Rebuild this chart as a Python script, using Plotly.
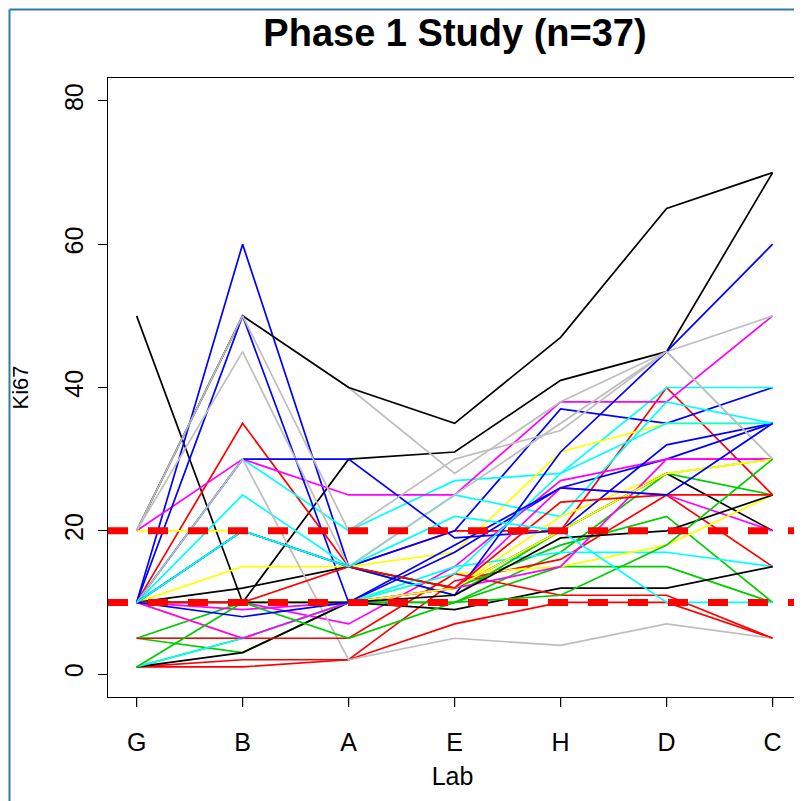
import plotly.graph_objects as go

labs = ["G", "B", "A", "E", "H", "D", "C"]
yticks = [0, 20, 40, 60, 80]

# Ki67 per patient across labs (approximate)
black_1 = [50, 10, 30, 31, 41, 45, 70]
black_2 = [20, 50, 40, 35, 47, 65, 70]
black_3 = [10, 12, 15, 12, 20, 28, 20]
black_4 = [1, 3, 10, 9, 12, 12, 15]
black_5 = [10, 10, 10, 11, 19, 20, 25]
red_1 = [10, 35, 15, 20, 20, 40, 25]
red_2 = [1, 1, 2, 7, 10, 10, 5]
red_3 = [1, 2, 2, 13, 16, 25, 15]
red_4 = [5, 5, 5, 14, 11, 11, 5]
red_5 = [10, 10, 15, 12, 24, 25, 25]
green_1 = [5, 10, 10, 10, 17, 28, 30]
green_2 = [1, 5, 10, 12, 18, 22, 10]
green_3 = [5, 3, 10, 10, 15, 15, 10]
green_4 = [10, 20, 15, 11, 20, 28, 25]
green_5 = [1, 10, 5, 10, 11, 18, 30]
blue_1 = [10, 60, 15, 20, 37, 35, 40]
blue_2 = [10, 50, 10, 17, 26, 30, 35]
blue_3 = [10, 30, 30, 19, 20, 32, 35]
blue_4 = [10, 20, 15, 11, 31, 45, 60]
blue_5 = [10, 8, 10, 18, 26, 25, 35]
cyan_1 = [10, 30, 20, 27, 28, 40, 40]
cyan_2 = [10, 25, 15, 25, 22, 38, 35]
cyan_3 = [5, 5, 10, 15, 17, 17, 15]
cyan_4 = [1, 5, 10, 14, 28, 35, 35]
cyan_5 = [10, 20, 15, 22, 20, 10, 10]
magenta_1 = [20, 30, 25, 25, 38, 38, 50]
magenta_2 = [10, 10, 7, 15, 27, 30, 30]
magenta_3 = [10, 9, 10, 12, 26, 25, 20]
magenta_4 = [10, 5, 10, 12, 15, 30, 30]
yellow_1 = [20, 20, 15, 17, 31, 35, 35]
yellow_2 = [10, 15, 15, 12, 22, 28, 30]
yellow_3 = [10, 5, 10, 14, 15, 18, 25]
yellow_4 = [10, 10, 10, 12, 20, 28, 30]
gray_1 = [20, 50, 40, 28, 38, 45, 50]
gray_2 = [20, 45, 15, 25, 35, 45, 30]
gray_3 = [10, 30, 2, 5, 4, 7, 5]
gray_4 = [20, 50, 20, 30, 34, 45, 30]

series = [
    (black_1, "black"), (black_2, "black"), (black_3, "black"), (black_4, "black"), (black_5, "black"),
    (red_1, "red"), (red_2, "red"), (red_3, "red"), (red_4, "red"), (red_5, "red"),
    (green_1, "#00CD00"), (green_2, "#00CD00"), (green_3, "#00CD00"), (green_4, "#00CD00"), (green_5, "#00CD00"),
    (blue_1, "blue"), (blue_2, "blue"), (blue_3, "blue"), (blue_4, "blue"), (blue_5, "blue"),
    (cyan_1, "cyan"), (cyan_2, "cyan"), (cyan_3, "cyan"), (cyan_4, "cyan"), (cyan_5, "cyan"),
    (magenta_1, "magenta"), (magenta_2, "magenta"), (magenta_3, "magenta"), (magenta_4, "magenta"),
    (yellow_1, "yellow"), (yellow_2, "yellow"), (yellow_3, "yellow"), (yellow_4, "yellow"),
    (gray_1, "#BEBEBE"), (gray_2, "#BEBEBE"), (gray_3, "#BEBEBE"), (gray_4, "#BEBEBE"),
]
# interleave draw order like R's colour cycle
groups = {}
for vals, col in series:
    groups.setdefault(col, []).append(vals)
cols = ["black", "red", "#00CD00", "blue", "cyan", "magenta", "yellow", "#BEBEBE"]
order = []
maxn = max(len(v) for v in groups.values())
for i in range(maxn):
    for c in cols:
        if i < len(groups[c]):
            order.append((groups[c][i], c))

thresholds = [10, 20]

fig = go.Figure()
for vals, col in order:
    fig.add_trace(go.Scatter(x=labs, y=vals, mode="lines",
                             line=dict(color=col, width=1.7), showlegend=False,
                             hoverinfo="skip"))

for t in thresholds:
    fig.add_shape(type="line", xref="paper", x0=0, x1=1, yref="y", y0=t, y1=t,
                  line=dict(color="red", width=7, dash="20px,20px"))

# page body has an 8px offset; figure sized so it ends at the window edge
OFF = 8
W, H = 802 - OFF, 801 - OFF
ml, mr, mt, mb = 108 - OFF, 5, 78 - OFF, 104
pw, ph = W - ml - mr, H - mt - mb
def px(xs):
    return (xs - OFF - ml) / pw
def py(ys):
    return (H - mb - (ys - OFF)) / ph

xr = [-0.27, 6.23]
yr = [-3.2, 83.2]

# x-axis tick marks (outside, R style): category index mapped through the axis range
for i, lab in enumerate(labs):
    xp = (i - xr[0]) / (xr[1] - xr[0])
    fig.add_shape(type="line", xref="paper", yref="paper", x0=xp, x1=xp, y0=0, y1=-10 / ph,
                  line=dict(color="black", width=1.2))

# outer frame (left and top edges visible)
frame_col = "#2C7DA0"
fig.add_shape(type="line", xref="paper", yref="paper", x0=px(9.5), x1=px(9.5), y0=py(802), y1=py(9.5),
              line=dict(color=frame_col, width=2))
fig.add_shape(type="line", xref="paper", yref="paper", x0=px(9.5), x1=px(803), y0=py(9.5), y1=py(9.5),
              line=dict(color=frame_col, width=2))

font_family = "Liberation Sans, Arial, sans-serif"
fig.update_layout(
    width=W, height=H,
    margin=dict(l=ml, r=mr, t=mt, b=mb),
    paper_bgcolor="white", plot_bgcolor="white",
    font=dict(family=font_family, color="black"),
    title=dict(text="<b>Phase 1 Study (n=37)</b>", xref="container", x=(455 - OFF) / W, xanchor="center",
               yref="container", y=1 - (33 - OFF) / H, yanchor="middle", font=dict(size=38, family=font_family)),
    xaxis=dict(type="category", categoryarray=labs, range=xr, showgrid=False, zeroline=False, automargin=False,
               showline=True, mirror=True, linecolor="black", linewidth=1.2,
               ticks="", ticklabelstandoff=23,
               tickfont=dict(size=25), title=dict(text="Lab", font=dict(size=25), standoff=12)),
    yaxis=dict(range=yr, tickvals=yticks, showgrid=False, zeroline=False,
               automargin=False,
               showline=True, mirror=True, linecolor="black", linewidth=1.2,
               ticks="", ticklabelstandoff=14, tickangle=-90,
               tickfont=dict(size=25), title=dict(text="Ki67", font=dict(size=22), standoff=32)),
    yaxis2=dict(range=yr, tickvals=yticks, overlaying="y", side="left",
                showgrid=False, zeroline=False, showline=False, automargin=False,
                ticks="outside", ticklen=9, tickcolor="black", tickwidth=1.2, showticklabels=False),
)
# empty trace carrying the overlay y-axis that draws the y tick marks
fig.add_trace(go.Scatter(x=labs, y=[None] * len(labs), yaxis="y2",
                         mode="lines", showlegend=False, hoverinfo="skip"))

fig.write_html("out.html")
